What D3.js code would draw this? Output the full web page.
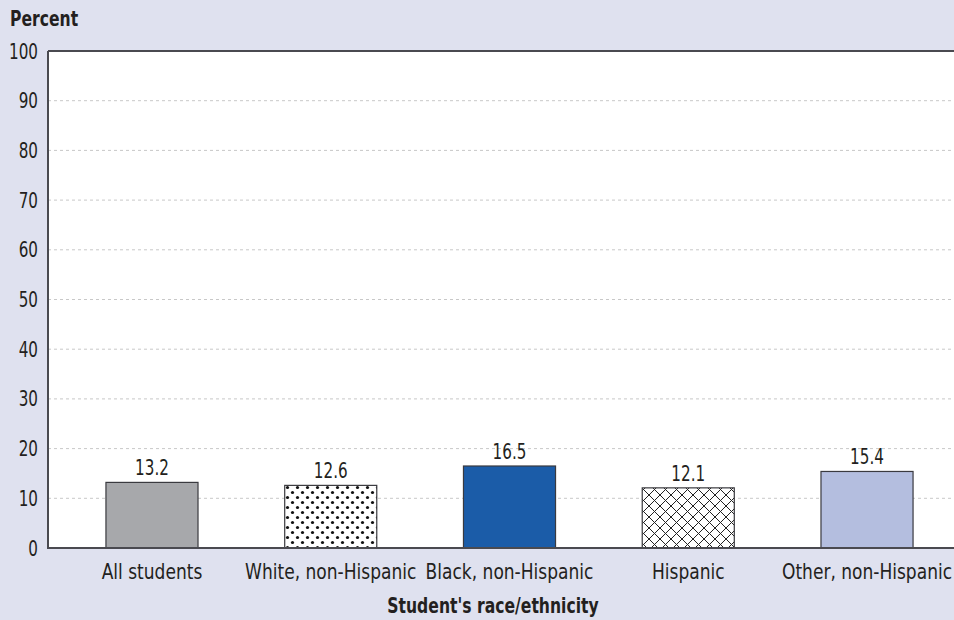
<!DOCTYPE html>
<html>
<head>
<meta charset="utf-8">
<script src="https://cdn.jsdelivr.net/npm/d3@7"></script>
<style>
  html, body { margin: 0; padding: 0; background: #dfe1ef; }
  svg { display: block; }
  text { font-family: "DejaVu Sans", sans-serif; fill: #231f20; }
</style>
</head>
<body>
<svg id="chart" width="954" height="620"></svg>
<script>
// Share of students, by race/ethnicity (percent)
const categories = ["All students", "White, non-Hispanic", "Black, non-Hispanic", "Hispanic", "Other, non-Hispanic"];
const values = [13.2, 12.6, 16.5, 12.1, 15.4];
const fills = ["#a7a8ab", "url(#dots)", "#1b5ca8", "url(#cross)", "#b4bedf"];
const yTicks = [0, 10, 20, 30, 40, 50, 60, 70, 80, 90, 100];

const svg = d3.select("#chart");
const plot = { left: 48, top: 51, right: 958, bottom: 548 };
const FS = "22px";

// Horizontal squeeze factors for a condensed look
const SQ_NUM = 0.69, SQ_TXT = 0.775, SQ_BOLD = 0.71;
function squeeze(sel, f) {
  sel.each(function () {
    const w = this.getComputedTextLength();
    d3.select(this).attr("textLength", w * f).attr("lengthAdjust", "spacingAndGlyphs");
  });
}

// Patterns for the hatched bars
const defs = svg.append("defs");
const dots = defs.append("pattern").attr("id", "dots").attr("patternUnits", "userSpaceOnUse")
  .attr("width", 10).attr("height", 10);
dots.append("rect").attr("width", 10).attr("height", 10).attr("fill", "#fff");
dots.append("circle").attr("cx", 2.5).attr("cy", 2.5).attr("r", 1.6).attr("fill", "#111");
dots.append("circle").attr("cx", 7.5).attr("cy", 7.5).attr("r", 1.6).attr("fill", "#111");

const cross = defs.append("pattern").attr("id", "cross").attr("patternUnits", "userSpaceOnUse")
  .attr("width", 11).attr("height", 11);
cross.append("rect").attr("width", 11).attr("height", 11).attr("fill", "#fff");
cross.append("path").attr("d", "M0,0L11,11M11,0L0,11").attr("stroke", "#222").attr("stroke-width", 1);

// Scales
const x = d3.scaleBand().domain(categories).range([62.6, 956.4]).paddingInner(0.485).paddingOuter(0.2425);
const y = d3.scaleLinear().domain([0, 100]).range([plot.bottom, plot.top]);

// White plotting area
svg.append("rect").attr("x", plot.left).attr("y", plot.top)
  .attr("width", plot.right - plot.left).attr("height", plot.bottom - plot.top).attr("fill", "#fff");

// Dashed gridlines
svg.append("g").selectAll("line").data(yTicks.filter(d => d > 0 && d < 100)).join("line")
  .attr("x1", plot.left).attr("x2", plot.right)
  .attr("y1", d => y(d)).attr("y2", d => y(d))
  .attr("stroke", "#c8c8c8").attr("stroke-width", 1).attr("stroke-dasharray", "3,3");

// Y axis labels
const yAxis = svg.append("g").attr("transform", `translate(${plot.left},0)`)
  .call(d3.axisLeft(y).tickValues(yTicks).tickSize(0).tickPadding(10));
yAxis.select(".domain").remove();
yAxis.selectAll("text").style("font-size", FS).attr("fill", "#231f20").call(squeeze, SQ_NUM);

// Bars
svg.append("g").selectAll("rect").data(categories).join("rect")
  .attr("x", d => x(d)).attr("width", x.bandwidth())
  .attr("y", (d, i) => y(values[i])).attr("height", (d, i) => y(0) - y(values[i]))
  .attr("fill", (d, i) => fills[i]).attr("stroke", "#3a3a3f").attr("stroke-width", 1.2);

// Value labels
svg.append("g").selectAll("text").data(categories).join("text")
  .attr("x", d => x(d) + x.bandwidth() / 2).attr("y", (d, i) => y(values[i]) - 7)
  .attr("text-anchor", "middle").style("font-size", FS)
  .text((d, i) => values[i].toFixed(1))
  .call(squeeze, SQ_NUM);

// Axis frame lines
svg.append("line").attr("x1", plot.left).attr("x2", plot.right).attr("y1", plot.top).attr("y2", plot.top)
  .attr("stroke", "#4a4a50").attr("stroke-width", 2);
svg.append("line").attr("x1", plot.left).attr("x2", plot.left).attr("y1", plot.top).attr("y2", plot.bottom)
  .attr("stroke", "#4a4a50").attr("stroke-width", 2);
svg.append("line").attr("x1", plot.left - 1).attr("x2", plot.right).attr("y1", plot.bottom).attr("y2", plot.bottom)
  .attr("stroke", "#4a4a50").attr("stroke-width", 2);

// X axis category labels
const xAxis = svg.append("g").attr("transform", `translate(0,${plot.bottom})`)
  .call(d3.axisBottom(x).tickSize(0).tickPadding(15));
xAxis.select(".domain").remove();
xAxis.selectAll("text").style("font-size", FS).attr("fill", "#231f20").call(squeeze, SQ_TXT);

// Titles
svg.append("text").attr("x", 10).attr("y", 26)
  .style("font-size", FS).style("font-weight", "bold").text("Percent").call(squeeze, SQ_BOLD);
svg.append("text").attr("x", 493).attr("y", 613).attr("text-anchor", "middle")
  .style("font-size", FS).style("font-weight", "bold").text("Student's race/ethnicity").call(squeeze, SQ_BOLD);
</script>
</body>
</html>
